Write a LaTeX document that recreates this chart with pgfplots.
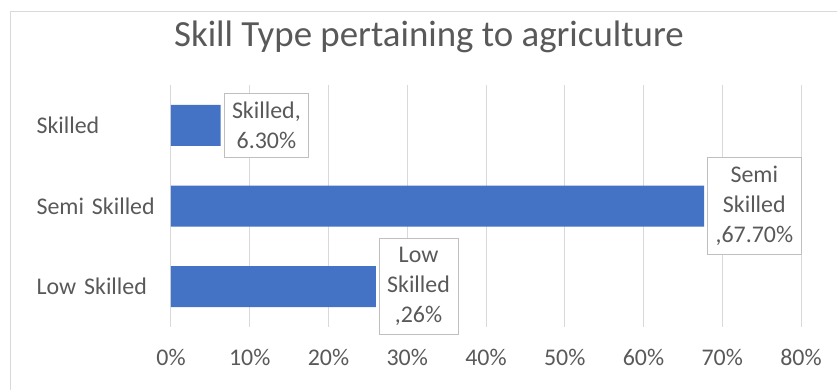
\documentclass[border=0pt]{standalone}
\usepackage{pgfplots}
\pgfplotsset{compat=1.18}
\usepackage{fontspec}
\setmainfont{Carlito}
\definecolor{barblue}{HTML}{4472C4}
\definecolor{txtgray}{HTML}{595959}
\definecolor{gridgray}{HTML}{D9D9D9}
\definecolor{boxgray}{HTML}{BFBFBF}
\definecolor{framegray}{HTML}{D9D9D9}
\begin{document}
\begin{tikzpicture}[x=1bp,y=1bp]
\path[use as bounding box] (-171,-63) rectangle (666,327);
\draw[framegray, line width=1.2bp] (-160.5,-63) -- (-160.5,315.5) -- (666,315.5);
\node[anchor=base, text=txtgray, font=\fontsize{37}{44}\selectfont, inner sep=0] at (258,281) {Skill Type pertaining to agriculture};
\begin{axis}[
  at={(0,0)}, anchor=south west,
  scale only axis, width=630bp, height=242bp,
  xbar, bar width=41bp,
  xmin=0, xmax=80, ymin=-0.5, ymax=2.5,
  xtick={0,10,...,80},
  xticklabel={\pgfmathprintnumber{\tick}\%},
  /pgf/number format/assume math mode=true,
  ytick={0,1,2},
  yticklabels={Low Skilled, Semi Skilled, Skilled},
  xmajorgrids, major grid style={gridgray, line width=1bp},
  axis line style={draw=none},
  major tick style={draw=none},
  tick label style={text=txtgray, font=\fontsize{24}{28}\selectfont},
  xticklabel style={anchor=base, inner sep=0, yshift=-38bp},
  yticklabel style={anchor=east, inner sep=0, text width=120bp, align=left, xshift=-10bp},
  point meta=explicit symbolic,
  nodes near coords,
  every node near coord/.append style={anchor=west, xshift=3bp, align=center,
     draw=boxgray, fill=white, text=txtgray, font=\fontsize{24}{30}\selectfont,
     inner xsep=8bp, inner ysep=9bp, line width=0.8bp},
]
\addplot[fill=barblue, draw=none] coordinates {
  (26,0) [{Low\\Skilled\\,26\%}]
  (67.7,1) [{Semi\\Skilled\\,67.70\%}]
  (6.3,2) [{Skilled,\\6.30\%}]
};
\end{axis}
\end{tikzpicture}
\end{document}
